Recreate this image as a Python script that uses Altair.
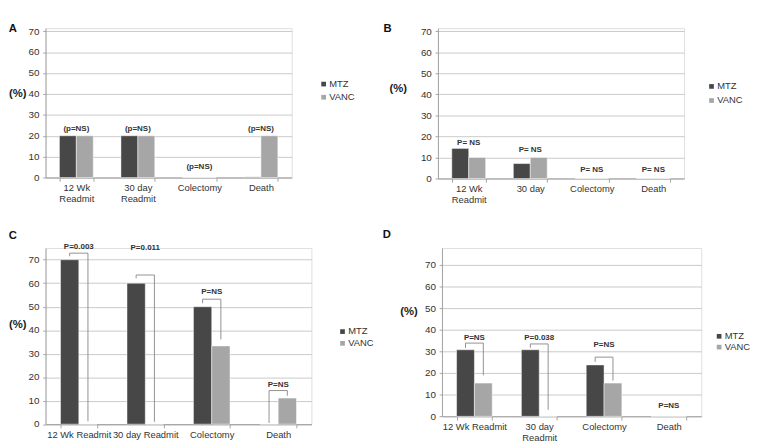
import altair as alt
import pandas as pd

SERIES = ["MTZ", "VANC"]
COLORS = ["#474747", "#a6a6a6"]
FONT = "Liberation Sans"
YTICKS = [0, 10, 20, 30, 40, 50, 60, 70]

# ---------------- Panel A ----------------
cat_a = ["12 Wk|Readmit", "30 day|Readmit", "Colectomy", "Death"]
mtz_a = [20, 20, 0, 0.3]
vanc_a = [20, 20, 0, 20]
note_a = ["(p=NS)", "(p=NS)", "(p=NS)", "(p=NS)"]
note_y_a = [23.4, 23.4, 5.6, 23.4]

# ---------------- Panel B ----------------
cat_b = ["12 Wk|Readmit", "30 day", "Colectomy", "Death"]
mtz_b = [14.3, 7.1, 0, 0]
vanc_b = [10, 10, 0, 0]
note_b = ["P= NS", "P= NS", "P= NS", "P= NS"]
note_y_b = [17.5, 13.8, 4.2, 4.2]

# ---------------- Panel C ----------------
cat_c = ["12 Wk Readmit", "30 day Readmit", "Colectomy", "Death"]
mtz_c = [70, 60, 50, 0]
vanc_c = [0, 0, 33.3, 11.1]
note_c = ["P=0.003", "P=0.011", "P=NS", "P=NS"]
note_y_c = [75.9, 75.5, 56.8, 17.2]
br_cat_c = [0, 1, 2, 3]
br_lo_c = [71.5, 62.1, 51.5, 0.5]      # left (MTZ) end of bracket
br_top_c = [72.8, 63.5, 53.2, 14.3]    # bracket top
br_ro_c = [1.2, 1.0, 36.1, 12.1]       # right (VANC) end of bracket

# ---------------- Panel D ----------------
cat_d = ["12 Wk Readmit", "30 day|Readmit", "Colectomy", "Death"]
mtz_d = [30.8, 30.8, 23.8, 0]
vanc_d = [15.4, 0, 15.4, 0]
note_d = ["P=NS", "P=0.038", "P=NS", "P=NS"]
note_y_d = [36.5, 36.5, 33.5, 5.2]
br_cat_d = [0, 1, 2]
br_lo_d = [31.7, 31.7, 25.2]
br_top_d = [33.9, 33.5, 27.4]
br_ro_d = [19.0, 3.0, 16.5]


def panel(letter, cats, mtz, vanc, notes, note_y, br_cat, br_lo, br_top, br_ro,
          w, h, ymax, tx, ty, lx, ly, rowpad, toff, tdx):
    bars = pd.DataFrame({
        "cat": cats * 2,
        "series": ["MTZ"] * len(cats) + ["VANC"] * len(cats),
        "value": list(mtz) + list(vanc),
    })
    notes_df = pd.DataFrame({"cat": cats, "note": notes, "y": note_y})

    xscale = alt.Scale(paddingInner=0.45, paddingOuter=0.225)
    xaxis = alt.Axis(
        title=None, labelExpr="split(datum.label, '|')", labelAngle=0,
        labelFontSize=10, labelColor="#333333", labelLineHeight=11.5,
        tickBand="extent", tickSize=4, tickColor="#a0a0a0",
        domainColor="#a0a0a0", labelPadding=2, grid=False, labelLimit=200,
    )
    xoff_scale = alt.Scale(paddingInner=0, paddingOuter=0)
    yscale = alt.Scale(domain=[0, ymax], nice=False)
    yaxis = alt.Axis(
        values=YTICKS, title="(%)", titleAngle=0,
        titleX=tx, titleY=ty, titleFontSize=12, titleFontWeight="bold",
        titleColor="#222222", titleAlign="center", titleBaseline="middle",
        grid=True, gridColor="#c6c6c6", domainColor="#a0a0a0",
        tickColor="#a0a0a0", tickSize=3, labelPadding=4, labelOverlap=False,
        labelFontSize=10.5, labelColor="#333333",
    )

    def X():
        return alt.X("cat:N", sort=cats, scale=xscale, axis=xaxis)

    def XO():
        return alt.XOffset("series:N", sort=SERIES, scale=xoff_scale)

    bar_layer = alt.Chart(bars).mark_bar(stroke="white", strokeWidth=0.5).encode(
        x=X(), xOffset=XO(),
        y=alt.Y("value:Q", scale=yscale, axis=yaxis),
        color=alt.Color(
            "series:N",
            scale=alt.Scale(domain=SERIES, range=COLORS),
            legend=alt.Legend(
                title=None, orient="none", legendX=lx, legendY=ly,
                symbolType="square", symbolSize=25, symbolStrokeWidth=0,
                labelFontSize=10, labelColor="#333333", rowPadding=rowpad,
                labelOffset=1, padding=0,
            ),
        ),
    )
    text_layer = alt.Chart(notes_df).mark_text(
        fontSize=8.5, fontWeight="bold", color="#333333", baseline="middle"
    ).encode(
        x=X(),
        y=alt.Y("y:Q", scale=yscale, axis=yaxis),
        text="note:N",
    )

    layers = [bar_layer, text_layer]
    if br_cat:
        rows = []
        for i, ci in enumerate(br_cat):
            c = cats[ci]
            rows += [
                {"cat": c, "series": "MTZ", "y": br_lo[i], "bid": i, "ord": 0},
                {"cat": c, "series": "MTZ", "y": br_top[i], "bid": i, "ord": 1},
                {"cat": c, "series": "VANC", "y": br_top[i], "bid": i, "ord": 2},
                {"cat": c, "series": "VANC", "y": br_ro[i], "bid": i, "ord": 3},
            ]
        br_df = pd.DataFrame(rows)
        br_layer = alt.Chart(br_df).mark_line(color="#8c8c8c", strokeWidth=1).encode(
            x=X(), xOffset=XO(),
            y=alt.Y("y:Q", scale=yscale, axis=yaxis),
            detail="bid:N", order="ord:Q",
        )
        layers.append(br_layer)

    return alt.layer(*layers).properties(
        width=w, height=h,
        title=alt.TitleParams(letter, anchor="start", fontSize=12, fontWeight="bold",
                              color="#111111", offset=toff, dx=tdx),
    )


pa = panel("A", cat_a, mtz_a, vanc_a, note_a, note_y_a, [], [], [], [],
           262, 159, 71.5, -30, 69, 291, 54.5, 4, -9, 0)
pb = panel("B", cat_b, mtz_b, vanc_b, note_b, note_y_b, [], [], [], [],
           262, 160, 71.5, -42.7, 63, 286.2, 57, 5, -9, -6)
pc = panel("C", cat_c, mtz_c, vanc_c, note_c, note_y_c, br_cat_c, br_lo_c, br_top_c, br_ro_c,
           283, 187.5, 75, -30, 80.5, 311.1, 84, 2.5, 0, 0)
pd_ = panel("D", cat_d, mtz_d, vanc_d, note_d, note_y_d, br_cat_d, br_lo_d, br_top_d, br_ro_d,
            276, 179.2, 77.9, -35.7, 66.5, 290, 89, 1.5, 8, -18)

row1 = alt.hconcat(pa, pb, spacing=27.7).resolve_scale(
    color="independent", xOffset="independent")
row2 = alt.hconcat(pc, pd_, spacing=7).resolve_scale(
    color="independent", xOffset="independent")

chart = alt.vconcat(row1, row2, spacing=24).resolve_scale(
    color="independent", xOffset="independent"
).properties(padding=0, background="white").configure_view(
    strokeWidth=0
).configure(font=FONT)

chart.save("out.html", embed_options={"renderer": "svg", "actions": False})
